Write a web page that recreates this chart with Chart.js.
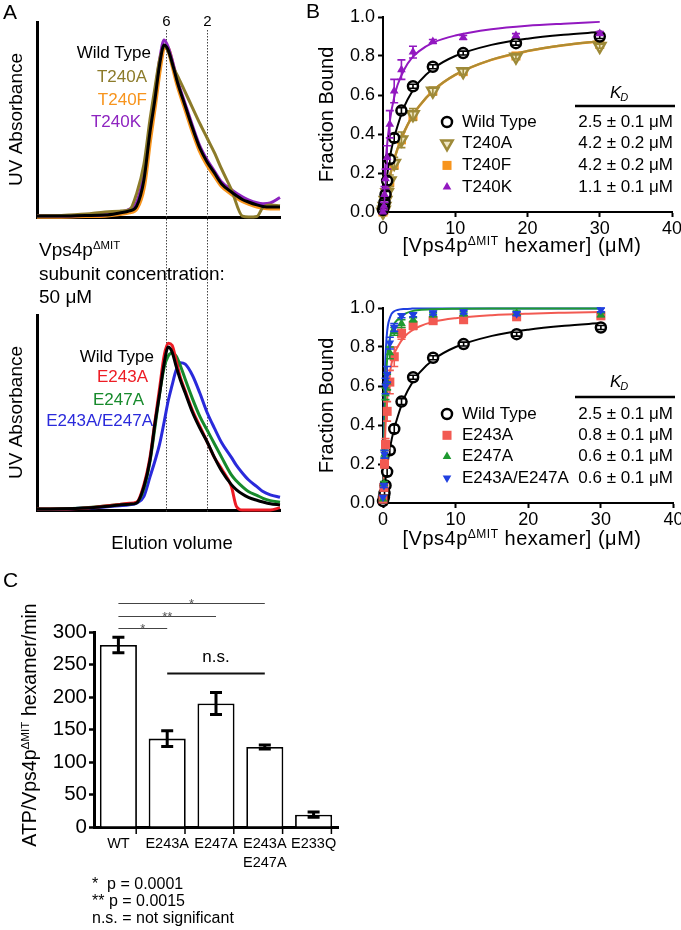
<!DOCTYPE html>
<html><head><meta charset="utf-8">
<script src="https://cdn.jsdelivr.net/npm/chart.js@4"></script>
<style>
body{margin:0;background:#fff;width:681px;height:930px;position:relative;overflow:hidden;font-family:"Liberation Sans",Arial,sans-serif;}
canvas{position:absolute;}
.t{position:absolute;white-space:nowrap;line-height:1;color:#000;}
.t sup{font-size:0.6em;vertical-align:0;position:relative;top:-0.6em;}
.r{transform:translate(-100%,-50%);}
.l{transform:translateY(-50%);}
.m{transform:translate(-50%,-50%);}
.v{transform:translate(-50%,-50%) rotate(-90deg);}
</style></head><body>
<canvas id="aTop" style="left:0;top:0;width:300px;height:300px" width="300" height="300"></canvas>
<canvas id="aBot" style="left:0;top:300px;width:300px;height:260px" width="300" height="260"></canvas>
<canvas id="bTop" style="left:300px;top:0;width:381px;height:290px" width="381" height="290"></canvas>
<canvas id="bBot" style="left:300px;top:290px;width:381px;height:270px" width="381" height="270"></canvas>
<canvas id="cBar" style="left:0;top:560px;width:360px;height:370px" width="360" height="370"></canvas>

<div class="t l" style="left:3px;top:11px;font-size:21px">A</div>
<div class="t l" style="left:306px;top:10px;font-size:21px">B</div>
<div class="t l" style="left:3px;top:579px;font-size:21px">C</div>

<div class="t r" style="left:151px;top:52px;font-size:17px;color:#000">Wild Type</div>
<div class="t r" style="left:147px;top:76px;font-size:17px;color:#8C7B2A">T240A</div>
<div class="t r" style="left:147px;top:99px;font-size:17px;color:#F7941D">T240F</div>
<div class="t r" style="left:141px;top:121px;font-size:17px;color:#8E24C0">T240K</div>

<div class="t l" style="left:39px;top:249px;font-size:19px">Vps4p<sup>ΔMIT</sup></div>
<div class="t l" style="left:39px;top:273px;font-size:19px">subunit concentration:</div>
<div class="t l" style="left:39px;top:296px;font-size:19px">50 μM</div>

<div class="t r" style="left:154px;top:356px;font-size:17px;color:#000">Wild Type</div>
<div class="t r" style="left:148px;top:376px;font-size:17px;color:#ED1C24">E243A</div>
<div class="t r" style="left:144px;top:399px;font-size:17px;color:#178A2C">E247A</div>
<div class="t r" style="left:153px;top:420px;font-size:17px;color:#2A2ADB">E243A/E247A</div>
<div class="t m" style="left:172px;top:543px;font-size:18.5px">Elution volume</div>

<div class="t m" style="left:522px;top:245px;font-size:20px;letter-spacing:0.5px">[Vps4p<sup>ΔMIT</sup> hexamer] (μM)</div>
<div class="t m" style="left:522px;top:538px;font-size:20px;letter-spacing:0.5px">[Vps4p<sup>ΔMIT</sup> hexamer] (μM)</div>

<div class="t v" style="left:30px;top:725px;font-size:19.5px">ATP/Vps4p<sup>ΔMIT</sup> hexamer/min</div>
<div class="t l" style="left:92px;top:884px;font-size:16px">*&nbsp; p = 0.0001</div>
<div class="t l" style="left:92px;top:901px;font-size:16px">** p = 0.0015</div>
<div class="t l" style="left:92px;top:918px;font-size:16px">n.s. = not significant</div>

<script>
// ================= DATA =================
// Panel A: size-exclusion traces (elution volume in arbitrary units, normalised UV absorbance)
const elutionTop = [0,10,20,28,34,38,41,44,46.5,48.5,50.5,52.3,54,56,58,61,64,67,70,73,76,80,84.5,87,90.5,93,96,100];
const uvWildTypeTop = [.005,.005,.008,.01,.021,.031,.056,.19,.436,.6,.785,.882,.856,.774,.682,.569,.456,.354,.282,.226,.169,.128,.09,.077,.062,.054,.051,.051];
const uvT240A = [.005,.008,.015,.026,.03,.036,.12,.27,.5,.66,.81,.872,.85,.77,.72,.64,.56,.48,.405,.33,.245,.14,.005,0,.003,.05,.062,.058];
const uvT240F = [.003,.003,.006,.008,.016,.025,.045,.16,.40,.575,.76,.872,.86,.768,.672,.558,.444,.342,.27,.214,.16,.12,.083,.07,.055,.048,.045,.045];
const uvT240K = [.005,.005,.008,.012,.025,.04,.075,.23,.47,.63,.81,.908,.872,.787,.693,.58,.468,.365,.293,.236,.18,.14,.103,.088,.073,.068,.072,.1];

const elutionBottom = [0,10,20,28,34,38,41,44,46.5,48.5,50.5,52.3,54,55.6,57.2,59,61,64,67,70,73,76,80,82,84.5,87,90.5,93,96,100];
const uvWildTypeBottom = [.005,.006,.01,.018,.026,.03,.036,.12,.256,.44,.6,.75,.836,.81,.74,.667,.6,.5,.42,.35,.27,.2,.13,.105,.082,.065,.05,.041,.032,.026];
const uvE243A = [.005,.005,.01,.02,.028,.034,.04,.13,.27,.45,.63,.79,.855,.845,.77,.68,.61,.51,.43,.35,.27,.21,.12,.02,0,0,0,0,0,.012];
const uvE247A = [.005,.006,.012,.02,.028,.032,.038,.11,.25,.42,.6,.73,.79,.805,.79,.74,.67,.57,.48,.41,.34,.27,.18,.15,.12,.095,.075,.06,.048,.04];
const uvE243AE247A = [.004,.005,.01,.016,.022,.027,.035,.07,.17,.25,.34,.45,.56,.64,.715,.755,.748,.69,.6,.5,.42,.345,.27,.23,.19,.155,.12,.095,.078,.065];
const standardPositions = [53.1, 70.0];
const standardLabels = ['6', '2'];

// Panel B: binding titrations
const hexamerConc = [0, 0.13, 0.21, 0.35, 0.57, 0.94, 1.55, 2.55, 4.15, 6.9, 11.1, 18.4, 30];
const boundWildType = [0.01, 0.03, 0.05, 0.09, 0.16, 0.27, 0.38, 0.52, 0.645, 0.745, 0.815, 0.866, 0.90];
const errWildType  = [0.01, 0.01, 0.01, 0.015, 0.02, 0.02, 0.02, 0.015, 0.01, 0.01, 0.01, 0.01, 0.01];
const boundT240A = [0.0, 0.01, 0.03, 0.06, 0.1, 0.16, 0.25, 0.37, 0.5, 0.62, 0.72, 0.795, 0.85];
const errT240A   = [0, 0.01, 0.01, 0.02, 0.02, 0.03, 0.03, 0.04, 0.03, 0.02, 0.015, 0.01, 0.01];
const boundT240F = [0.0, 0.01, 0.03, 0.06, 0.1, 0.15, 0.24, 0.37, 0.49, 0.62, 0.72, 0.80, 0.86];
const boundT240K = [0.0, 0.03, 0.09, 0.17, 0.28, 0.45, 0.62, 0.73, 0.82, 0.875, 0.895, 0.905, 0.915];
const errT240K   = [0, 0.02, 0.04, 0.05, 0.06, 0.07, 0.06, 0.05, 0.03, 0.01, 0.01, 0.01, 0.01];
const boundE243A = [0.02, 0.08, 0.2, 0.3, 0.47, 0.62, 0.75, 0.87, 0.91, 0.935, 0.94, 0.955, 0.96];
const errE243A   = [0, 0.01, 0.02, 0.03, 0.05, 0.06, 0.05, 0.03, 0.02, 0.01, 0.01, 0.01, 0.01];
const boundE247A = [0.02, 0.1, 0.25, 0.56, 0.62, 0.77, 0.88, 0.92, 0.94, 0.965, 0.97, 0.975, 0.965];
const errE247A   = [0, 0.01, 0.02, 0.03, 0.04, 0.03, 0.02, 0.02, 0.01, 0.01, 0.01, 0.01, 0.01];
const boundE243AE247A = [0.03, 0.09, 0.25, 0.6, 0.66, 0.82, 0.9, 0.96, 0.965, 0.975, 0.98, 0.97, 0.99];
const errE243AE247A   = [0, 0.01, 0.02, 0.04, 0.04, 0.03, 0.02, 0.01, 0.01, 0.01, 0.01, 0.01, 0.01];

// fitted binding curves
const fitConc = [0, 0.1, 0.25, 0.5, 1, 1.5, 2, 3, 4, 5, 7, 10, 15, 20, 25, 30];
const fitWildType = [0, .04, .09, .17, .29, .375, .44, .545, .615, .667, .737, .80, .857, .889, .909, .923];
const fitT240A = [0, .023, .056, .106, .192, .263, .323, .417, .488, .543, .625, .704, .781, .826, .856, .877];
const fitT240F = [0, .022, .055, .105, .19, .262, .322, .416, .487, .542, .624, .703, .78, .825, .855, .876];
const fitT240K = [0, .08, .19, .32, .48, .58, .65, .735, .79, .825, .87, .905, .937, .955, .966, .975];
const fitE243A = [0, .13, .3, .5, .68, .76, .8, .855, .885, .905, .93, .948, .963, .971, .976, .98];
const fitE247A = [0, .2, .46, .7, .855, .915, .94, .97, .984, .99, .994, .996, .997, .997, .997, .997];
const fitE243AE247A = [0, .3, .64, .85, .955, .982, .99, .995, .997, .998, .998, .998, .998, .998, .998, .998];

const kdTopLabels = ['Wild Type', 'T240A', 'T240F', 'T240K'];
const kdTopValues = ['2.5 ± 0.1 μM', '4.2 ± 0.2 μM', '4.2 ± 0.2 μM', '1.1 ± 0.1 μM'];
const kdBotLabels = ['Wild Type', 'E243A', 'E247A', 'E243A/E247A'];
const kdBotValues = ['2.5 ± 0.1 μM', '0.8 ± 0.1 μM', '0.6 ± 0.1 μM', '0.6 ± 0.1 μM'];

// Panel C: ATPase activity
const variants = ['WT', 'E243A', 'E247A', ['E243A', 'E247A'], 'E233Q'];
const atpaseRate = [280, 136, 190, 123, 19];
const atpaseErr = [12, 12, 17, 3, 4];
const sigComparisons = [[0, 1, 306], [0, 2, 325], [0, 3, 345], [1, 3, 237]];
const sigLabels = ['*', '**', '*', 'n.s.'];

// ================= HELPERS =================
const FONT = '"Liberation Sans", Arial, sans-serif';
Chart.defaults.font.family = FONT;
Chart.defaults.color = '#000';
const pts = (xs, ys) => xs.map((x, i) => ({x, y: ys[i]}));

function traceDs(xs, ys, color, width, order) {
  return {type: 'line', data: pts(xs, ys), borderColor: color, borderWidth: width, pointRadius: 0,
    cubicInterpolationMode: 'monotone', fill: false, order, clip: 4};
}
function fitDs(ys, color, width, order) {
  return {type: 'line', data: pts(fitConc, ys), borderColor: color, borderWidth: width, pointRadius: 0,
    cubicInterpolationMode: 'monotone', fill: false, order, clip: false};
}
function ptDs(ys, errs, style, radius, fillC, lineC, bw, order, rot) {
  return {type: 'scatter', data: pts(hexamerConc, ys), errors: errs, pointStyle: style, pointRadius: radius,
    pointBackgroundColor: fillC, pointBorderColor: lineC, borderColor: lineC, backgroundColor: fillC,
    pointBorderWidth: bw, pointRotation: rot || 0, order, clip: false, errorWidth: 1.6, capWidth: 4};
}

function drawMarker(ctx, style, r, rot, x, y, fillC, lineC, bw) {
  ctx.save();
  ctx.fillStyle = fillC; ctx.strokeStyle = lineC; ctx.lineWidth = bw;
  ctx.beginPath();
  if (style === 'circle') {
    ctx.arc(x, y, r, 0, Math.PI * 2);
  } else if (style === 'rect') {
    const s = Math.SQRT1_2 * r;
    ctx.rect(x - s, y - s, 2 * s, 2 * s);
  } else if (style === 'triangle') {
    let a = rot * Math.PI / 180;
    ctx.moveTo(x + Math.sin(a) * r, y - Math.cos(a) * r);
    a += 2 * Math.PI / 3;
    ctx.lineTo(x + Math.sin(a) * r, y - Math.cos(a) * r);
    a += 2 * Math.PI / 3;
    ctx.lineTo(x + Math.sin(a) * r, y - Math.cos(a) * r);
    ctx.closePath();
  }
  ctx.fill();
  if (bw > 0) ctx.stroke();
  ctx.restore();
}

// ================= PLUGINS =================
const standardsPlugin = {
  id: 'standards',
  beforeDatasetsDraw(chart, args, opts) {
    const {ctx, chartArea, scales: {x}} = chart;
    ctx.save();
    standardPositions.forEach((v, i) => {
      const px = Math.round(x.getPixelForValue(v)) + 0.5;
      const y0 = opts.fromTop ? 0 : chartArea.top + 8;
      const y1 = opts.toBottom ? chart.height : chartArea.bottom + 3;
      ctx.strokeStyle = '#444'; ctx.lineWidth = 1; ctx.setLineDash([1.5, 1.5]);
      ctx.beginPath(); ctx.moveTo(px, y0); ctx.lineTo(px, y1); ctx.stroke();
      if (opts.labels) {
        ctx.setLineDash([]);
        ctx.fillStyle = '#000'; ctx.font = '15px ' + FONT;
        ctx.textAlign = 'center'; ctx.textBaseline = 'middle';
        ctx.fillText(standardLabels[i], px, chartArea.top);
      }
    });
    ctx.restore();
  }
};

const errorBarsPlugin = {
  id: 'errorBars',
  afterDatasetDraw(chart, args) {
    const ds = chart.data.datasets[args.index];
    if (!ds.errors) return;
    const ctx = chart.ctx, ys = chart.scales.y;
    ctx.save();
    ctx.strokeStyle = ds.errorColor || ds.borderColor;
    ctx.lineWidth = ds.errorWidth || 1.5;
    args.meta.data.forEach((el, i) => {
      const e = ds.errors[i];
      if (!e) return;
      const d = ds.data[i];
      const v = (typeof d === 'object') ? d.y : d;
      const y1 = ys.getPixelForValue(v + e), y2 = ys.getPixelForValue(v - e);
      const x = el.x, cw = ds.capWidth || 4;
      ctx.beginPath();
      ctx.moveTo(x, y1); ctx.lineTo(x, y2);
      ctx.moveTo(x - cw, y1); ctx.lineTo(x + cw, y1);
      ctx.moveTo(x - cw, y2); ctx.lineTo(x + cw, y2);
      ctx.stroke();
    });
    ctx.restore();
  }
};

const kdLegendPlugin = {
  id: 'kdLegend',
  afterDraw(chart, args, o) {
    if (!o.rows) return;
    const ctx = chart.ctx;
    ctx.save();
    ctx.textBaseline = 'middle';
    o.rows.forEach((r, i) => {
      const y = o.y0 + i * o.dy;
      const ds = chart.data.datasets[r.ds];
      drawMarker(ctx, ds.pointStyle, ds.pointRadius, ds.pointRotation, o.markerX, y,
        ds.pointBackgroundColor, ds.pointBorderColor, ds.pointBorderWidth);
      ctx.fillStyle = '#000'; ctx.font = '17px ' + FONT;
      ctx.textAlign = 'left'; ctx.fillText(r.label, o.textX, y);
      ctx.textAlign = 'right'; ctx.fillText(r.kd, o.valueX, y);
    });
    // header K_D
    ctx.textBaseline = 'alphabetic'; ctx.textAlign = 'left';
    ctx.font = 'italic 17px ' + FONT;
    ctx.fillText('K', o.headerX, o.headerY);
    const kw = ctx.measureText('K').width;
    ctx.font = 'italic 11px ' + FONT;
    ctx.fillText('D', o.headerX + kw - 1, o.headerY + 3);
    ctx.strokeStyle = '#000'; ctx.lineWidth = 2.5;
    ctx.beginPath(); ctx.moveTo(o.lineX0, o.lineY); ctx.lineTo(o.lineX1, o.lineY); ctx.stroke();
    ctx.restore();
  }
};

const sigPlugin = {
  id: 'sig',
  afterDraw(chart) {
    const {ctx, scales: {x, y}} = chart;
    ctx.save();
    sigComparisons.forEach((c, k) => {
      const x1 = x.getPixelForValue(c[0]), x2 = x.getPixelForValue(c[1]);
      const py = Math.round(y.getPixelForValue(c[2])) + 0.5;
      const ns = sigLabels[k] === 'n.s.';
      ctx.strokeStyle = ns ? '#111' : '#444';
      ctx.lineWidth = ns ? 2 : 1.2;
      ctx.beginPath(); ctx.moveTo(x1, py); ctx.lineTo(x2, py); ctx.stroke();
      ctx.textAlign = 'center';
      if (ns) {
        ctx.fillStyle = '#000'; ctx.font = '17px ' + FONT; ctx.textBaseline = 'middle';
        ctx.fillText(sigLabels[k], (x1 + x2) / 2, py - 16);
      } else {
        ctx.fillStyle = '#555'; ctx.font = '13px ' + FONT; ctx.textBaseline = 'alphabetic';
        ctx.fillText(sigLabels[k], (x1 + x2) / 2, py + 4.5);
      }
    });
    ctx.restore();
  }
};

const barTicksPlugin = {
  id: 'barTicks',
  afterDatasetsDraw(chart) {
    const {ctx, chartArea} = chart;
    const meta = chart.getDatasetMeta(0);
    ctx.save(); ctx.strokeStyle = '#000'; ctx.lineWidth = 1.5;
    meta.data.forEach(el => {
      const xr = el.x + el.width / 2 - 0.75;
      ctx.beginPath(); ctx.moveTo(xr, chartArea.bottom); ctx.lineTo(xr, chartArea.bottom + 7); ctx.stroke();
    });
    ctx.restore();
  }
};

// ================= COMMON OPTIONS =================
const base = {responsive: false, animation: false, devicePixelRatio: 1, events: []};
function fixBox(w, h) {
  return {
    x: s => { s.height = h; s.paddingLeft = 0; s.paddingRight = 0; },
    y: s => { s.width = w; s.paddingTop = 0; s.paddingBottom = 0; }
  };
}
const noGrid = {display: false, drawTicks: false, tickLength: 0};
const tickGrid = {display: true, drawOnChartArea: false, drawTicks: true, tickLength: 5, tickWidth: 2, tickColor: '#000'};

// ================= PANEL A =================
const olive = '#8C7B2A', orange = '#F7941D', purple = '#8E24C0';
(function () {
  const f = fixBox(37, 83);
  new Chart(document.getElementById('aTop'), {
    type: 'scatter',
    data: {datasets: [
      traceDs(elutionTop, uvWildTypeTop, '#000', 3, 1),
      traceDs(elutionTop, uvT240A, olive, 3, 2),
      traceDs(elutionTop, uvT240K, purple, 3, 3),
      traceDs(elutionTop, uvT240F, orange, 4.5, 4)
    ]},
    options: Object.assign({}, base, {
      layout: {padding: {top: 22, right: 20, left: 0, bottom: 0}},
      plugins: {legend: {display: false}, tooltip: {enabled: false}, standards: {labels: true, toBottom: true}},
      scales: {
        x: {type: 'linear', min: 0, max: 100, ticks: {display: false}, grid: noGrid, border: {color: '#000', width: 3}, afterFit: f.x},
        y: {min: 0, max: 1, ticks: {display: false}, grid: noGrid, border: {color: '#000', width: 3},
          title: {display: true, text: 'UV Absorbance', font: {size: 19}, color: '#000', padding: {top: 5, bottom: 0}}, afterFit: f.y}
      }
    }),
    plugins: [standardsPlugin]
  });
})();
(function () {
  const f = fixBox(37, 50);
  new Chart(document.getElementById('aBot'), {
    type: 'scatter',
    data: {datasets: [
      traceDs(elutionBottom, uvWildTypeBottom, '#000', 3, 1),
      traceDs(elutionBottom, uvE243A, '#ED1C24', 3, 2),
      traceDs(elutionBottom, uvE247A, '#178A2C', 3, 3),
      traceDs(elutionBottom, uvE243AE247A, '#2A2ADB', 3, 4)
    ]},
    options: Object.assign({}, base, {
      layout: {padding: {top: 15, right: 20, left: 0, bottom: 0}},
      plugins: {legend: {display: false}, tooltip: {enabled: false}, standards: {labels: false, fromTop: true}},
      scales: {
        x: {type: 'linear', min: 0, max: 100, ticks: {display: false}, grid: noGrid, border: {color: '#000', width: 3}, afterFit: f.x},
        y: {min: 0, max: 1, ticks: {display: false}, grid: noGrid, border: {color: '#000', width: 3},
          title: {display: true, text: 'UV Absorbance', font: {size: 19}, color: '#000', padding: {top: 5, bottom: 0}}, afterFit: f.y}
      }
    }),
    plugins: [standardsPlugin]
  });
})();

// ================= PANEL B =================
function bindingOptions(xh, padTop, legend) {
  const f = fixBox(83, xh);
  return Object.assign({}, base, {
    layout: {padding: {top: padTop, right: 6, left: 0, bottom: 0}},
    plugins: {legend: {display: false}, tooltip: {enabled: false}, kdLegend: legend},
    scales: {
      x: {type: 'linear', min: 0, max: 40, ticks: {stepSize: 10, font: {size: 18}, color: '#000', padding: 1},
        grid: tickGrid, border: {color: '#000', width: 2}, afterFit: f.x},
      y: {min: 0, max: 1, ticks: {stepSize: 0.2, font: {size: 18}, color: '#000', padding: 3, callback: v => Number(v).toFixed(1)},
        grid: tickGrid, border: {color: '#000', width: 2},
        title: {display: true, text: 'Fraction Bound', font: {size: 20}, color: '#000', padding: {top: 15, bottom: 0}}, afterFit: f.y}
    }
  });
}
const bOlive = '#9E8A38', bOliveCurve = '#AE8C34', bPurple = '#9218C0';
new Chart(document.getElementById('bTop'), {
  type: 'scatter',
  data: {datasets: [
    ptDs(boundWildType, errWildType, 'circle', 5, '#fff', '#000', 2.5, 3),
    ptDs(boundT240A, errT240A, 'triangle', 6.5, '#efe7c4', bOlive, 2.5, 4, 180),
    ptDs(boundT240F, null, 'rect', 6.4, orange, orange, 0, 5),
    ptDs(boundT240K, errT240K, 'triangle', 5, bPurple, bPurple, 0, 2),
    fitDs(fitWildType, '#000', 2, 10),
    fitDs(fitT240A, bOliveCurve, 2.2, 11),
    fitDs(fitT240F, orange, 2.5, 12),
    fitDs(fitT240K, bPurple, 2, 10)
  ]},
  options: bindingOptions(78, 17, {
    rows: kdTopLabels.map((l, i) => ({ds: i, label: l, kd: kdTopValues[i]})),
    markerX: 147, textX: 162, valueX: 373, y0: 122, dy: 21.7,
    headerX: 310, headerY: 98, lineX0: 275, lineX1: 375, lineY: 106
  }),
  plugins: [errorBarsPlugin, kdLegendPlugin]
});
const bRed = '#F25A52', bGreen = '#1E9930', bBlue = '#2040E0';
new Chart(document.getElementById('bBot'), {
  type: 'scatter',
  data: {datasets: [
    ptDs(boundWildType, errWildType, 'circle', 5, '#fff', '#000', 2.5, 5),
    ptDs(boundE243A, errE243A, 'rect', 6.4, bRed, bRed, 0, 4),
    ptDs(boundE247A, errE247A, 'triangle', 5, bGreen, bGreen, 0, 3),
    ptDs(boundE243AE247A, errE243AE247A, 'triangle', 5, bBlue, bBlue, 0, 2, 180),
    fitDs(fitWildType, '#000', 2, 10),
    fitDs(fitE243A, bRed, 2, 11),
    fitDs(fitE247A, bGreen, 2, 12),
    fitDs(fitE243AE247A, bBlue, 2, 13)
  ]},
  options: bindingOptions(57, 18, {
    rows: kdBotLabels.map((l, i) => ({ds: i, label: l, kd: kdBotValues[i]})),
    markerX: 147, textX: 162, valueX: 373, y0: 124, dy: 21.3,
    headerX: 310, headerY: 97, lineX0: 275, lineX1: 375, lineY: 107
  }),
  plugins: [errorBarsPlugin, kdLegendPlugin]
});

// ================= PANEL C =================
(function () {
  const f = fixBox(94, 103);
  new Chart(document.getElementById('cBar'), {
    type: 'bar',
    data: {labels: variants, datasets: [{
      data: atpaseRate, errors: atpaseErr, backgroundColor: '#fff', borderColor: '#000', borderWidth: 1.8,
      barPercentage: 0.76, categoryPercentage: 1, errorColor: '#000', errorWidth: 3, capWidth: 6
    }]},
    options: Object.assign({}, base, {
      layout: {padding: {top: 72, right: 22, left: 0, bottom: 0}},
      plugins: {legend: {display: false}, tooltip: {enabled: false}},
      scales: {
        x: {ticks: {font: {size: 14.5, lineHeight: 1.3}, color: '#000', padding: 8, maxRotation: 0, autoSkip: false},
          grid: noGrid, border: {color: '#000', width: 3}, afterFit: f.x},
        y: {min: 0, max: 300, ticks: {stepSize: 50, font: {size: 20.5}, color: '#000', padding: 2},
          grid: {display: true, drawOnChartArea: false, drawTicks: true, tickLength: 5, tickWidth: 2.5, tickColor: '#000'},
          border: {color: '#000', width: 3}, afterFit: f.y}
      }
    }),
    plugins: [errorBarsPlugin, barTicksPlugin, sigPlugin]
  });
})();
</script>
</body></html>
